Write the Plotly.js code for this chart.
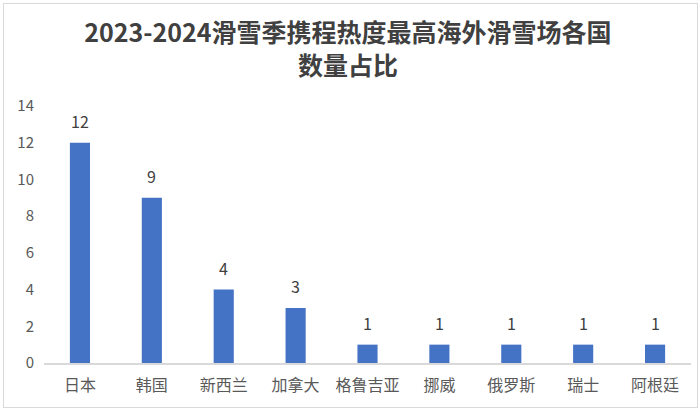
<!DOCTYPE html>
<html><head><meta charset="utf-8">
<script src="https://cdn.plot.ly/plotly-3.0.1.min.js"></script>
<style>
html,body{margin:0;padding:0;background:#fff;}
#wrap{position:relative;width:700px;height:415px;}
#frame{position:absolute;left:3px;top:3px;width:693px;height:403px;border:1px solid #d9d9d9;pointer-events:none;}
#chart{position:absolute;left:0;top:0;width:700px;height:415px;}
</style></head>
<body><div id="wrap"><div id="chart"></div><div id="frame"></div></div>
<script>
const countries = ["日本","韩国","新西兰","加拿大","格鲁吉亚","挪威","俄罗斯","瑞士","阿根廷"];
const counts = [12, 9, 4, 3, 1, 1, 1, 1, 1];
const yTicks = [0, 2, 4, 6, 8, 10, 12, 14];

const font = '"Noto Sans CJK SC", "Noto Sans", sans-serif';

const trace = {
  type: 'bar', x: countries, y: counts,
  marker: {color: '#4472C4'},
  hoverinfo: 'x+y'
};
const annotations = countries.map((c, i) => ({
  x: c, y: counts[i], xref: 'x', yref: 'y',
  text: String(counts[i]), showarrow: false,
  yanchor: 'bottom', yshift: 8,
  font: {family: font, size: 16, color: '#404040'}
}));

const layout = {
  width: 700, height: 415,
  margin: {l: 44, r: 9, t: 106, b: 52},
  paper_bgcolor: 'rgba(0,0,0,0)', plot_bgcolor: '#fff',
  bargap: 0.72,
  showlegend: false,
  title: {
    text: '<b>2023-2024滑雪季携程热度最高海外滑雪场各国<br>数量占比</b>',
    x: 0.497, xanchor: 'center', y: 0.898, yanchor: 'middle',
    font: {family: font, size: 25, color: '#404040'}
  },
  xaxis: {
    showgrid: false, showline: true, linecolor: '#d9d9d9', linewidth: 1.5,
    ticks: '', ticklabelstandoff: 7,
    tickfont: {family: font, size: 16, color: '#595959'}
  },
  yaxis: {
    range: [0, 14], tickvals: yTicks, showgrid: false, zeroline: false,
    showline: false, ticks: '', ticklabelstandoff: 9,
    tickfont: {family: font, size: 15, color: '#595959'}
  },
  annotations: annotations
};
Plotly.newPlot('chart', [trace], layout, {displayModeBar: false, staticPlot: true});
</script></body></html>
